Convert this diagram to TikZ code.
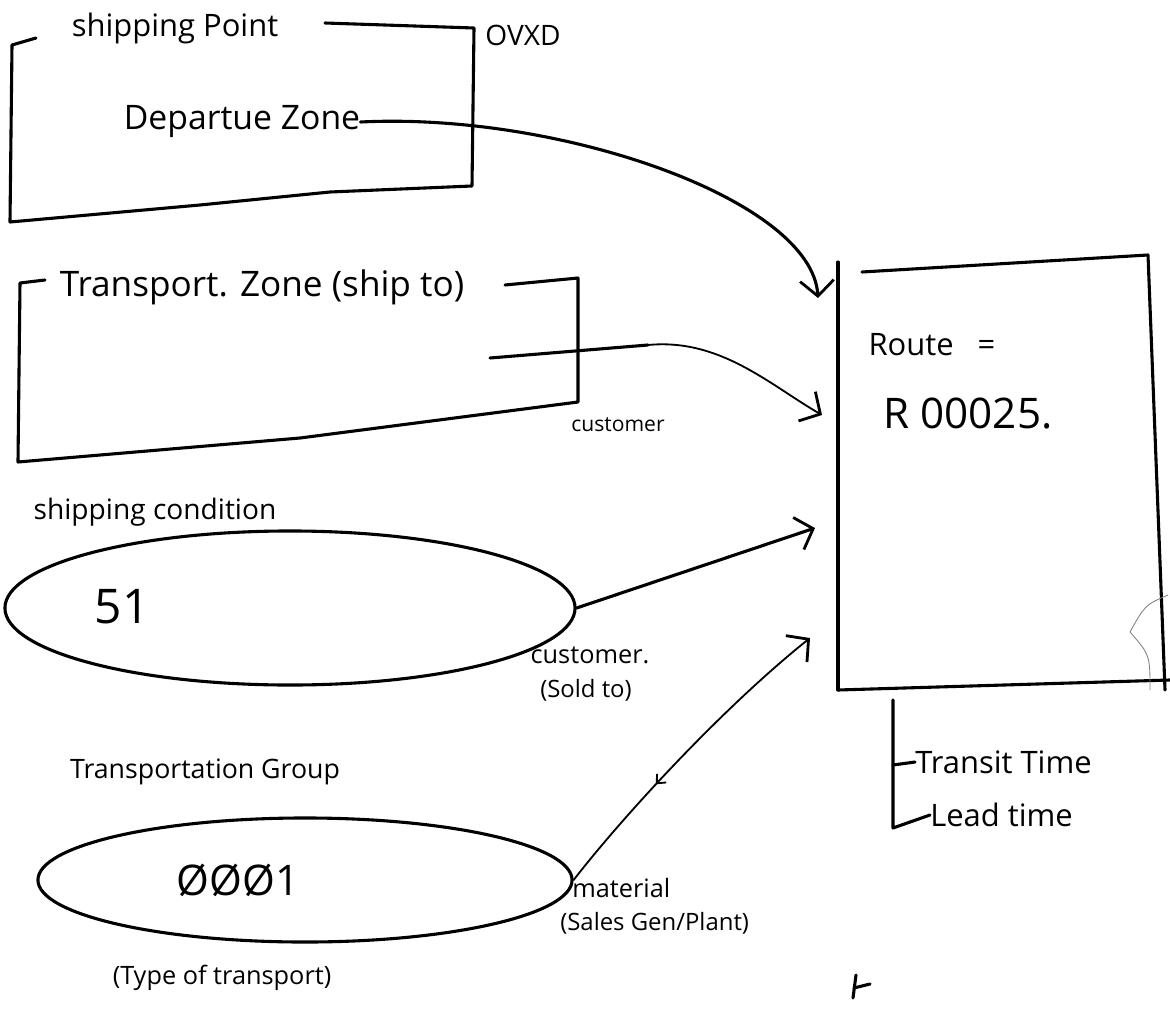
\documentclass[tikz,border=0pt]{standalone}
\usepackage{fontspec}
\setmainfont{Open Sans}
\usetikzlibrary{arrows.meta,shapes.geometric,decorations.markings}

\begin{document}
\begin{tikzpicture}[x=0.025cm,y=-0.025cm,
  pen/.style={line width=2.2pt,line cap=round,line join=round},
  thinpen/.style={line width=1.3pt,line cap=round,line join=round},
  txt/.style={inner sep=0pt},
  fs/.style={font=\fontsize{#1}{#1}\selectfont},
  barb/.style={-{Straight Barb[length=11pt,width=24pt,line width=2pt]}},
  midbarb/.style={decoration={markings,mark=at position 0.4 with
      {\arrow{Straight Barb[reversed,length=5pt,width=9pt,line width=1.3pt]}}},postaction={decorate}},
  oval/.style={ellipse,draw,pen,inner sep=0pt}
]
\useasboundingbox[fill=white] (0,0) rectangle (1170,1012);

% ---- shipping point box ----
\node[txt,fs=22] (sp) at (175,28) {shipping Point};
\node[txt,fs=20] (ovxd) at (523,35) {OVXD};
\node[txt,fs=24] (dz) at (242,122) {Departue Zone};
\draw[pen] (36,38) -- (12,45) -- (10,222) -- (200,205) -- (330,192) -- (472,186) -- (474,28) -- (325,23);

% ---- transport zone box ----
\node[txt,fs=25] (tz) at (262,287) {Transport. Zone (ship to)};
\node[txt,fs=15] (cust1) at (618,425) {customer};
\draw[pen] (45,280) -- (20,283) -- (18,462) -- (300,438) -- (578,402) -- (578,278) -- (505,285);
\coordinate (tzin) at (490,358);
\coordinate (tzout) at (648,345);

% ---- shipping condition ----
\node[txt,fs=20] (sc) at (155,512) {shipping condition};
\node[oval,minimum width=14.25cm,minimum height=3.85cm] (cond) at (290,608) {};
\node[txt,fs=34] (v51) at (122,607) {51};
\node[txt,fs=18] (cust2) at (590,655) {customer.};
\node[txt,fs=17] (sold) at (586,690) {(Sold to)};

% ---- transportation group ----
\node[txt,fs=19] (tg) at (205,772) {Transportation Group};
\node[oval,minimum width=13.35cm,minimum height=3.1cm] (grp) at (305,880) {};
\node[txt,fs=30] (v0001) at (238,880) {ØØØ1};
\node[txt,fs=18] (type) at (222,978) {(Type of transport)};
\node[txt,fs=18,anchor=north west] (mat) at (572,878) {material};
\node[txt,fs=17,anchor=north west] (sgp) at (560,912) {(Sales Gen/Plant)};

% ---- route box ----
\draw[pen] (838,262) -- (838,690);
\draw[pen] (862,272) -- (1148,255) -- (1165,690);
\draw[pen] (838,690) -- (1170,680);
\node[txt,fs=22] (route) at (932,345) {Route \ \ =};
\node[txt,fs=30] (rnum) at (968,413) {R 00025.};
\draw[thinpen,gray,line width=0.6pt] (1130,632) .. controls (1145,605) .. (1168,595)
  (1130,632) .. controls (1150,655) .. (1150,690);

\coordinate (r1) at (818,298);
\coordinate (r2) at (822,415);
\coordinate (r3) at (815,528);
\coordinate (r4) at (810,638);

% ---- connectors into the route ----
\draw[pen,barb] (dz.east) .. controls (560,112) and (812,200) .. (r1);
\draw[pen] (tzin) -- (tzout);
\draw[thinpen,barb] (tzout) .. controls (720,338) and (770,385) .. (r2);
\draw[pen,barb] (cond.east) -- (r3);
\draw[thinpen,barb,midbarb] (grp.east) .. controls (620,820) and (720,710) .. (r4);

% ---- route details ----
\node[txt,fs=22,anchor=west] (tt) at (915,762) {Transit Time};
\node[txt,fs=22,anchor=west] (lt) at (930,815) {Lead time};
\coordinate (brtop) at (893,700);
\coordinate (brmid) at (893,765);
\coordinate (brbot) at (893,828);
\draw[pen] (brtop) -- (brbot) -- (lt.west);
\draw[pen] (brmid) -- (tt.west);

% small stroke near the bottom edge
\draw[pen] (853,998) -- (856,975);
\draw[pen] (854,988) -- (870,984);
\end{tikzpicture}
\end{document}
